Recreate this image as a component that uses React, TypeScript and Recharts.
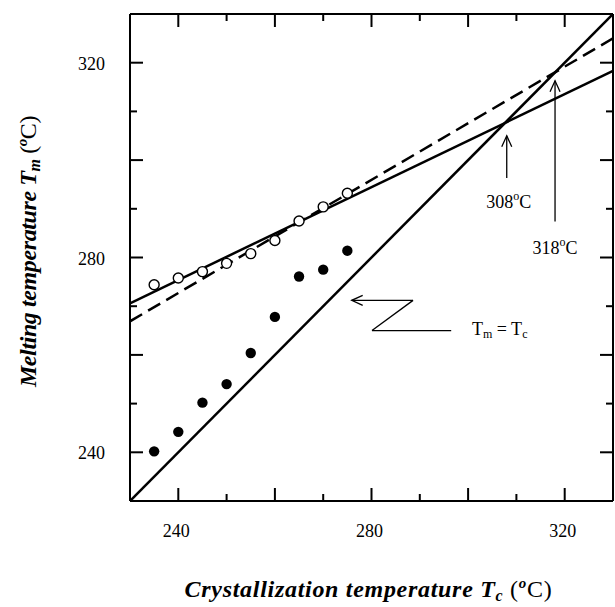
import React from 'react';
import { ComposedChart, XAxis, YAxis, Scatter, Line, ReferenceLine } from 'recharts';

// crystallization temperatures (x) and melting temperatures (y)
const tcValues = [235, 240, 245, 250, 255, 260, 265, 270, 275];
const tmOpen = [274.4, 275.8, 277.1, 278.8, 280.8, 283.5, 287.5, 290.4, 293.2];
const tmFilled = [240.2, 244.2, 250.2, 254.0, 260.4, 267.8, 276.1, 277.5, 281.4];

// fitted lines, given by their end points
const solidFit = [{ x: 230, y: 270.6 }, { x: 330, y: 318.3 }];
const dashedFit = [{ x: 230, y: 266.9 }, { x: 330, y: 325.0 }];
const identityLine = [{ x: 230, y: 230 }, { x: 330, y: 330 }];

const tickValues = [240, 250, 260, 270, 280, 290, 300, 310, 320];
const labeledTicks = [240, 280, 320];

const openPoints = tcValues.map((x, i) => ({ x, y: tmOpen[i] }));
const filledPoints = tcValues.map((x, i) => ({ x, y: tmFilled[i] }));

const FONT = '"Liberation Serif", "Times New Roman", serif';

const tickLen = (v: number) => (v % 20 === 0 ? 13 : 7);

const BottomTick = (props: any) => {
  const { x, y, payload } = props;
  const v = payload.value;
  return (
    <g>
      <line x1={x} y1={y} x2={x} y2={y - tickLen(v)} stroke="#000" strokeWidth={2} />
      {labeledTicks.includes(v) && (
        <text x={x - 2} y={y + 30} textAnchor="middle" dominantBaseline="central" fontFamily={FONT} fontSize={18} fill="#000">
          {v}
        </text>
      )}
    </g>
  );
};

const TopTick = (props: any) => {
  const { x, y, payload } = props;
  return <line x1={x} y1={y} x2={x} y2={y + tickLen(payload.value)} stroke="#000" strokeWidth={2} />;
};

const LeftTick = (props: any) => {
  const { x, y, payload } = props;
  const v = payload.value;
  return (
    <g>
      <line x1={x} y1={y} x2={x + tickLen(v)} y2={y} stroke="#000" strokeWidth={2} />
      {labeledTicks.includes(v) && (
        <text x={x - 25} y={y + 1} textAnchor="end" dominantBaseline="central" fontFamily={FONT} fontSize={18} fill="#000">
          {v}
        </text>
      )}
    </g>
  );
};

const RightTick = (props: any) => {
  const { x, y, payload } = props;
  return <line x1={x} y1={y} x2={x - tickLen(payload.value)} y2={y} stroke="#000" strokeWidth={2} />;
};

const XTitle = (props: any) => {
  const vb = props.viewBox || { x: 130, y: 501, width: 483 };
  return (
    <text x={vb.x + vb.width / 2 - 3} y={vb.y + 96} textAnchor="middle" fontFamily={FONT} fontSize={24} letterSpacing={0.7} fill="#000">
      <tspan fontWeight="bold" fontStyle="italic">Crystallization temperature T</tspan>
      <tspan fontWeight="bold" fontStyle="italic" fontSize={16} dy={4}>c</tspan>
      <tspan dy={-4}> (</tspan>
      <tspan fontWeight="bold" fontStyle="italic" fontSize={15} dy={-9}>o</tspan>
      <tspan dy={9}>C)</tspan>
    </text>
  );
};

const YTitle = (props: any) => {
  const vb = props.viewBox || { x: 129, y: 14, height: 487 };
  const cx = 36;
  const cy = vb.y + vb.height / 2 - 6;
  return (
    <text x={cx} y={cy} textAnchor="middle" transform={`rotate(-90, ${cx}, ${cy})`} fontFamily={FONT} fontSize={24} letterSpacing={-0.4} fill="#000">
      <tspan fontWeight="bold" fontStyle="italic">Melting temperature T</tspan>
      <tspan fontWeight="bold" fontStyle="italic" fontSize={16} dy={4}>m</tspan>
      <tspan dy={-4}> (</tspan>
      <tspan fontWeight="bold" fontStyle="italic" fontSize={15} dy={-9}>o</tspan>
      <tspan dy={9}>C)</tspan>
    </text>
  );
};

// line from (x1,y1) to (x2,y2) with an open arrow head at the second point
const arrowShape = (head: boolean) => (p: any) => {
  const { x1, y1, x2, y2 } = p;
  const dx = x2 - x1;
  const dy = y2 - y1;
  const len = Math.sqrt(dx * dx + dy * dy) || 1;
  const ux = dx / len;
  const uy = dy / len;
  const hl = 11;
  const hw = 5;
  return (
    <g>
      <line x1={x1} y1={y1} x2={x2} y2={y2} stroke="#000" strokeWidth={1.3} />
      {head && (
        <polyline
          points={`${x2 - ux * hl - uy * hw},${y2 - uy * hl + ux * hw} ${x2},${y2} ${x2 - ux * hl + uy * hw},${y2 - uy * hl - ux * hw}`}
          fill="none"
          stroke="#000"
          strokeWidth={1.3}
        />
      )}
    </g>
  );
};

const degLabel = (value: string) => (p: any) => (
  <text x={p.cx} y={p.cy} textAnchor="middle" dominantBaseline="central" fontFamily={FONT} fontSize={18} fill="#000">
    {value}
    <tspan fontSize={12} dy={-6}>o</tspan>
    <tspan dy={6}>C</tspan>
  </text>
);

const arrow308 = { x: 308, from: 296.3, to: 305.0, labelY: 291.4 };
const arrow318 = { x: 318, from: 287.4, to: 316.3, labelY: 281.9 };
const zPath = [
  { x: 288.6, y: 271.2 },
  { x: 275.9, y: 271.2 },
  { x: 280.1, y: 265.0 },
  { x: 296.5, y: 265.0 },
];

const axisLine = { stroke: '#000', strokeWidth: 2 };

const App: React.FC = () => {
  return (
    <div style={{ position: 'absolute', left: 0, top: 0, width: 615, height: 607, background: '#fff' }}>
      <ComposedChart width={615} height={607} margin={{ top: 13, right: 1, bottom: 105, left: 129 }}>
        <XAxis
          xAxisId="b"
          dataKey="x"
          type="number"
          domain={[230, 330]}
          ticks={tickValues}
          height={1}
          tickSize={0}
          tickMargin={0}
          tickLine={false}
          tick={<BottomTick />}
          axisLine={axisLine}
          allowDataOverflow
          label={<XTitle />}
        />
        <XAxis
          xAxisId="t"
          orientation="top"
          dataKey="x"
          type="number"
          domain={[230, 330]}
          ticks={tickValues}
          height={1}
          tickSize={0}
          tickMargin={0}
          tickLine={false}
          tick={<TopTick />}
          axisLine={axisLine}
          allowDataOverflow
        />
        <YAxis
          yAxisId="l"
          dataKey="y"
          type="number"
          domain={[230, 330]}
          ticks={tickValues}
          width={1}
          tickSize={0}
          tickMargin={0}
          tickLine={false}
          tick={<LeftTick />}
          axisLine={axisLine}
          allowDataOverflow
          label={<YTitle />}
        />
        <YAxis
          yAxisId="r"
          orientation="right"
          dataKey="y"
          type="number"
          domain={[230, 330]}
          ticks={tickValues}
          width={1}
          tickSize={0}
          tickMargin={0}
          tickLine={false}
          tick={<RightTick />}
          axisLine={axisLine}
          allowDataOverflow
        />

        <Line xAxisId="b" yAxisId="l" data={identityLine} dataKey="y" type="linear" stroke="#000" strokeWidth={2.5} dot={false} isAnimationActive={false} />
        <Line xAxisId="b" yAxisId="l" data={solidFit} dataKey="y" type="linear" stroke="#000" strokeWidth={2.5} dot={false} isAnimationActive={false} />
        <Line xAxisId="b" yAxisId="l" data={dashedFit} dataKey="y" type="linear" stroke="#000" strokeWidth={2.5} strokeDasharray="14 7" dot={false} isAnimationActive={false} />

        <Scatter
          xAxisId="b"
          yAxisId="l"
          data={filledPoints}
          isAnimationActive={false}
          shape={(p: any) => <circle cx={p.cx} cy={p.cy} r={5.2} fill="#000" />}
        />
        <Scatter
          xAxisId="b"
          yAxisId="l"
          data={openPoints}
          isAnimationActive={false}
          shape={(p: any) => <circle cx={p.cx} cy={p.cy} r={5} fill="#fff" stroke="#000" strokeWidth={1.4} />}
        />

        <ReferenceLine
          xAxisId="b"
          yAxisId="l"
          segment={[{ x: arrow308.x, y: arrow308.from }, { x: arrow308.x, y: arrow308.to }]}
          shape={arrowShape(true)}
        />
        <ReferenceLine
          xAxisId="b"
          yAxisId="l"
          segment={[{ x: arrow318.x, y: arrow318.from }, { x: arrow318.x, y: arrow318.to }]}
          shape={arrowShape(true)}
        />
        <ReferenceLine xAxisId="b" yAxisId="l" segment={[zPath[0], zPath[1]]} shape={arrowShape(true)} />
        <ReferenceLine xAxisId="b" yAxisId="l" segment={[zPath[0], zPath[2]]} shape={arrowShape(false)} />
        <ReferenceLine xAxisId="b" yAxisId="l" segment={[zPath[2], zPath[3]]} shape={arrowShape(false)} />

        <Scatter
          xAxisId="b"
          yAxisId="l"
          data={[{ x: arrow308.x + 0.4, y: arrow308.labelY }]}
          isAnimationActive={false}
          shape={degLabel('308')}
        />
        <Scatter
          xAxisId="b"
          yAxisId="l"
          data={[{ x: arrow318.x, y: arrow318.labelY }]}
          isAnimationActive={false}
          shape={degLabel('318')}
        />
        <Scatter
          xAxisId="b"
          yAxisId="l"
          data={[{ x: 300.8, y: 265.4 }]}
          isAnimationActive={false}
          shape={(p: any) => (
            <text x={p.cx} y={p.cy} dominantBaseline="central" fontFamily={FONT} fontSize={18} fill="#000">
              T<tspan fontSize={12} dy={5}>m</tspan>
              <tspan dy={-5}> = T</tspan>
              <tspan fontSize={12} dy={5}>c</tspan>
            </text>
          )}
        />
      </ComposedChart>
    </div>
  );
};

export default App;
